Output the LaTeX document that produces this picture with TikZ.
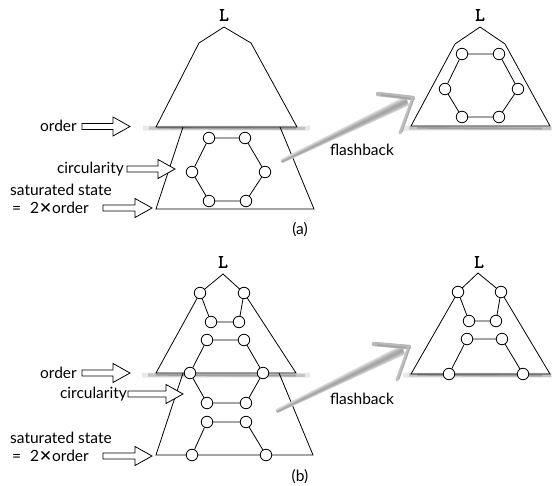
\documentclass[tikz,border=0pt]{standalone}
\usepackage{fontspec}
\setmainfont{Lato}
\newfontfamily\dejavu{DejaVu Sans}
\newfontfamily\monoL[FakeBold=1.6]{Latin Modern Mono}
\usetikzlibrary{calc}
\tikzset{
  v/.style={circle, draw, fill=white, minimum size=11.5pt, inner sep=0pt, line width=0.8pt},
  ln/.style={line width=0.8pt},
  lbl/.style={font=\fontsize{15.5}{17}\selectfont, inner sep=0pt},
  Lsty/.style={font=\fontsize{19}{19}\selectfont\monoL, inner sep=0pt},
  barr/.style={line width=0.8pt, fill=white},
}
% block arrow: name, x, y, length
\newcommand\blockarrow[4]{%
  \coordinate (#1) at (#2,#3);
  \draw[barr] ($(#1)+(0,-3)$) -- ($(#1)+(#4-17,-3)$) -- ($(#1)+(#4-17,-9.5)$) --
    ($(#1)+(#4,0)$) -- ($(#1)+(#4-17,9.5)$) -- ($(#1)+(#4-17,3)$) -- ($(#1)+(0,3)$) -- cycle;
}
\newcommand\graybar[3]{% x1, x2, y
  \draw[gray!25, line width=5pt, opacity=.7] (#1,#3+1.2) -- (#2,#3+1);
  \draw[gray!50, line width=3.2pt, opacity=.9] (#1+6,#3+1) -- (#2-5,#3+1.4);
  \draw[gray!75, line width=1.6pt] (#1+14,#3+0.9) -- (#2-14,#3+1.5);
}
\newcommand\brusharrow[4]{% tail, tip, barb up, barb down
  \coordinate (bend) at ($(#2)!7pt!(#1)$);
  \foreach \o/\w/\c in {-4.5/1/30,-3.5/1.2/45,-2.4/1.5/55,-1.2/1.8/65,0/2/72,1.2/1.8/65,2.4/1.5/55,3.5/1.2/40,4.4/1/28}{
    \draw[gray!\c, line width=\w pt, line cap=round]
      ($(#1)!\o*0.35pt!90:(#2)$) -- ($(bend)!\o pt!-90:(#1)$);
  }
  \draw[gray!55, line width=4.5pt, line cap=round] (#3) -- (#2);
  \draw[gray!70, line width=1.8pt] ($(#3)+(3,1)$) -- ($(#2)+(0,1)$);
  \draw[gray!50, line width=3pt, line cap=round] (#2) -- (#4);
  \draw[gray!65, line width=1.2pt] ($(#2)+(1,0)$) -- ($(#4)+(2,-1)$);
}
\begin{document}
\begin{tikzpicture}[x=1pt,y=-1pt]
\useasboundingbox (0,0) rectangle (552,486);

% ================= (a) left =================
\graybar{143}{310}{127}
\node[Lsty] (La) at (224,15) {L};
\draw[ln] (224,27) -- (199,43) -- (156,127) -- (297,127) -- (251,43) -- cycle;
\draw[ln] (183,127) -- (156,209) -- (314,209) -- (280,127);
\node[v] (a1) at (209,138) {};
\node[v] (a2) at (245,138) {};
\node[v] (a3) at (265,172) {};
\node[v] (a4) at (246,201) {};
\node[v] (a5) at (209,201) {};
\node[v] (a6) at (192,172) {};
\draw[ln] (a1) -- (a2) -- (a3) -- (a4) -- (a5) -- (a6) -- (a1);

\node[lbl, anchor=east] (orda) at (77,126) {order};
\blockarrow{orda-ar}{82}{126.5}{48}
\node[lbl, anchor=east] (circa) at (124,169) {circularity};
\blockarrow{circa-ar}{127}{169}{48}
\node[lbl, anchor=west] (sata) at (10,190) {saturated state};
\node[lbl, anchor=west] (eqa) at (12,208) {=\hspace{9pt}2{\dejavu ✕}order};
\blockarrow{sata-ar}{103}{208}{49}
\node[lbl] (capa) at (300,230) {(a)};

% ================= (a) right =================
\graybar{403}{556}{127}
\node[Lsty] (Lar) at (480,15) {L};
\draw[ln] (480,27) -- (455,44) -- (411,126) -- (550,126) -- (505,44) -- cycle;
\node[v] (r1) at (462,54) {};
\node[v] (r2) at (499,54) {};
\node[v] (r3) at (518,89) {};
\node[v] (r4) at (499,117) {};
\node[v] (r5) at (462,117) {};
\node[v] (r6) at (445,89) {};
\draw[ln] (r1) -- (r2) -- (r3) -- (r4) -- (r5) -- (r6) -- (r1);

\coordinate (fa-tail) at (282,161);
\coordinate (fa-tip) at (413,98);
\coordinate (fa-up) at (378,94);
\coordinate (fa-dn) at (400,133);
\brusharrow{fa-tail}{fa-tip}{fa-up}{fa-dn}
\node[lbl] (flasha) at (362,150) {flashback};

% ================= (b) left =================
\graybar{142}{310}{374}
\node[Lsty] (Lb) at (223,262) {L};
\draw[ln] (223,274) -- (200,293) -- (156,373) -- (296,373) -- (244,293) -- cycle;
\draw[ln] (183,373) -- (156,455) -- (313,455) -- (279,373);
\node[v] (b1) at (200,293) {};
\node[v] (b2) at (244,293) {};
\node[v] (b3) at (239,322) {};
\node[v] (b4) at (211,322) {};
\draw[ln] (b1) -- (b4) -- (b3) -- (b2);
\node[v] (b5) at (207,340) {};
\node[v] (b6) at (244,340) {};
\node[v] (b7) at (263,373) {};
\node[v] (b8) at (246,403) {};
\node[v] (b9) at (207,403) {};
\node[v] (b10) at (190,373) {};
\draw[ln] (b5) -- (b6) -- (b7) -- (b8) -- (b9) -- (b10) -- (b5);
\node[v] (b11) at (207,422) {};
\node[v] (b12) at (246,422) {};
\node[v] (b13) at (266,455) {};
\node[v] (b14) at (192,455) {};
\draw[ln] (b14) -- (b11) -- (b12) -- (b13);

\node[lbl, anchor=east] (ordb) at (77,373) {order};
\blockarrow{ordb-ar}{82}{373}{48}
\node[lbl, anchor=east] (circb) at (127,394) {circularity};
\blockarrow{circb-ar}{128}{394}{55}
\node[lbl, anchor=west] (satb) at (10,438) {saturated state};
\node[lbl, anchor=west] (eqb) at (12,456) {=\hspace{9pt}2{\dejavu ✕}order};
\blockarrow{satb-ar}{103}{456}{49}
\node[lbl] (capb) at (300,477) {(b)};

% ================= (b) right =================
\graybar{403}{556}{374}
\node[Lsty] (Lbr) at (479,262) {L};
\draw[ln] (478,273) -- (458,292) -- (411,374) -- (550,374) -- (501,292) -- cycle;
\node[v] (c1) at (458,292) {};
\node[v] (c2) at (501,292) {};
\node[v] (c3) at (496,321) {};
\node[v] (c4) at (469,321) {};
\draw[ln] (c1) -- (c4) -- (c3) -- (c2);
\node[v] (c5) at (467,339) {};
\node[v] (c6) at (502,339) {};
\node[v] (c7) at (523,374) {};
\node[v] (c8) at (449,374) {};
\draw[ln] (c8) -- (c5) -- (c6) -- (c7);

\coordinate (fb-tail) at (277,411);
\coordinate (fb-tip) at (409,347);
\coordinate (fb-up) at (374,344);
\coordinate (fb-dn) at (397,380);
\brusharrow{fb-tail}{fb-tip}{fb-up}{fb-dn}
\node[lbl] (flashb) at (362,399) {flashback};
\end{tikzpicture}
\end{document}
